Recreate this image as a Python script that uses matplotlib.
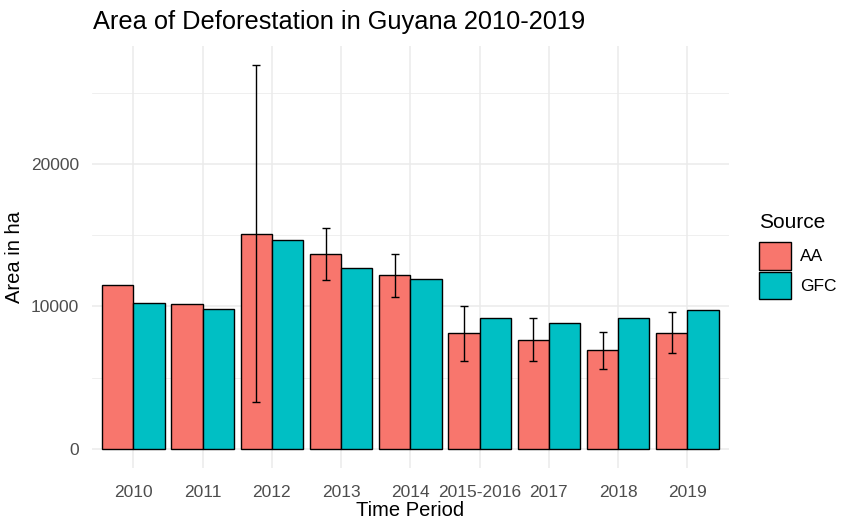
import matplotlib
matplotlib.use('Agg')
import matplotlib.pyplot as plt
import numpy as np
from matplotlib.patches import Patch

plt.rcParams['font.family'] = ['Liberation Sans', 'DejaVu Sans']

periods = ['2010', '2011', '2012', '2013', '2014', '2015-2016', '2017', '2018', '2019']
aa = [11530, 10150, 15110, 13680, 12190, 8120, 7670, 6925, 8120]
gfc = [10245, 9850, 14640, 12700, 11950, 9170, 8840, 9190, 9730]
# AA uncertainty range (lower, upper)
aa_low = [np.nan, np.nan, 3320, 11860, 10690, 6175, 6175, 5640, 6715]
aa_high = [np.nan, np.nan, 26950, 15490, 13710, 10035, 9190, 8210, 9610]

col_aa = '#F8766D'
col_gfc = '#00BFC4'
grid_col = '#EBEBEB'
tick_col = '#4D4D4D'

fig = plt.figure(figsize=(8.41, 5.22), dpi=100)
ax = fig.add_axes([0.1092, 0.103, 0.7575, 0.8095])

x = np.arange(len(periods))
w = 0.45
ax.bar(x - w/2, aa, w, color=col_aa, edgecolor='black', linewidth=1.0, zorder=3)
ax.bar(x + w/2, gfc, w, color=col_gfc, edgecolor='black', linewidth=1.0, zorder=3)

lo = np.array(aa_low)
hi = np.array(aa_high)
mid = (lo + hi) / 2
ok = ~np.isnan(lo)
ax.errorbar((x - w/2)[ok], mid[ok], yerr=[(mid - lo)[ok], (hi - mid)[ok]],
            fmt='none', ecolor='black', elinewidth=1.0, capsize=2.8, capthick=1.0, zorder=4)

ymax = np.nanmax(hi)
pad = 0.05 * ymax
ax.set_ylim(-pad, ymax + pad)
ax.set_xlim(-0.6, len(periods) - 0.4)

ax.set_yticks([0, 10000, 20000])
ax.set_yticks([5000, 15000, 25000], minor=True)
ax.set_xticks(x)
ax.set_xticklabels(periods)

ax.grid(True, which='major', color=grid_col, linewidth=1.1, zorder=0)
ax.grid(True, which='minor', axis='y', color=grid_col, linewidth=0.55, zorder=0)
ax.set_axisbelow(True)
for s in ax.spines.values():
    s.set_visible(False)
ax.tick_params(which='both', length=0)
ax.tick_params(axis='both', labelsize=12.5, labelcolor=tick_col)
ax.tick_params(axis='x', pad=12)
ax.tick_params(axis='y', pad=9)

ax.set_xlabel('Time Period', fontsize=14.5, labelpad=1)
ax.set_ylabel('Area in ha', fontsize=14.5, labelpad=5)
fig.text(0.1106, 0.957, 'Area of Deforestation in Guyana 2010-2019', fontsize=18.3,
         ha='left', va='center')

handles = [Patch(facecolor=col_aa, edgecolor='black', linewidth=1.0, label='AA'),
           Patch(facecolor=col_gfc, edgecolor='black', linewidth=1.0, label='GFC')]
leg = fig.legend(handles=handles, title='Source', loc='upper left',
                 bbox_to_anchor=(0.894, 0.605), frameon=False, fontsize=12.5,
                 title_fontsize=15, handlelength=1.85, handleheight=2.1,
                 handletextpad=0.55, labelspacing=0.1, borderaxespad=0)
leg._legend_box.align = 'left'
leg._legend_box.sep = 7

fig.savefig('out.png', dpi=100)
